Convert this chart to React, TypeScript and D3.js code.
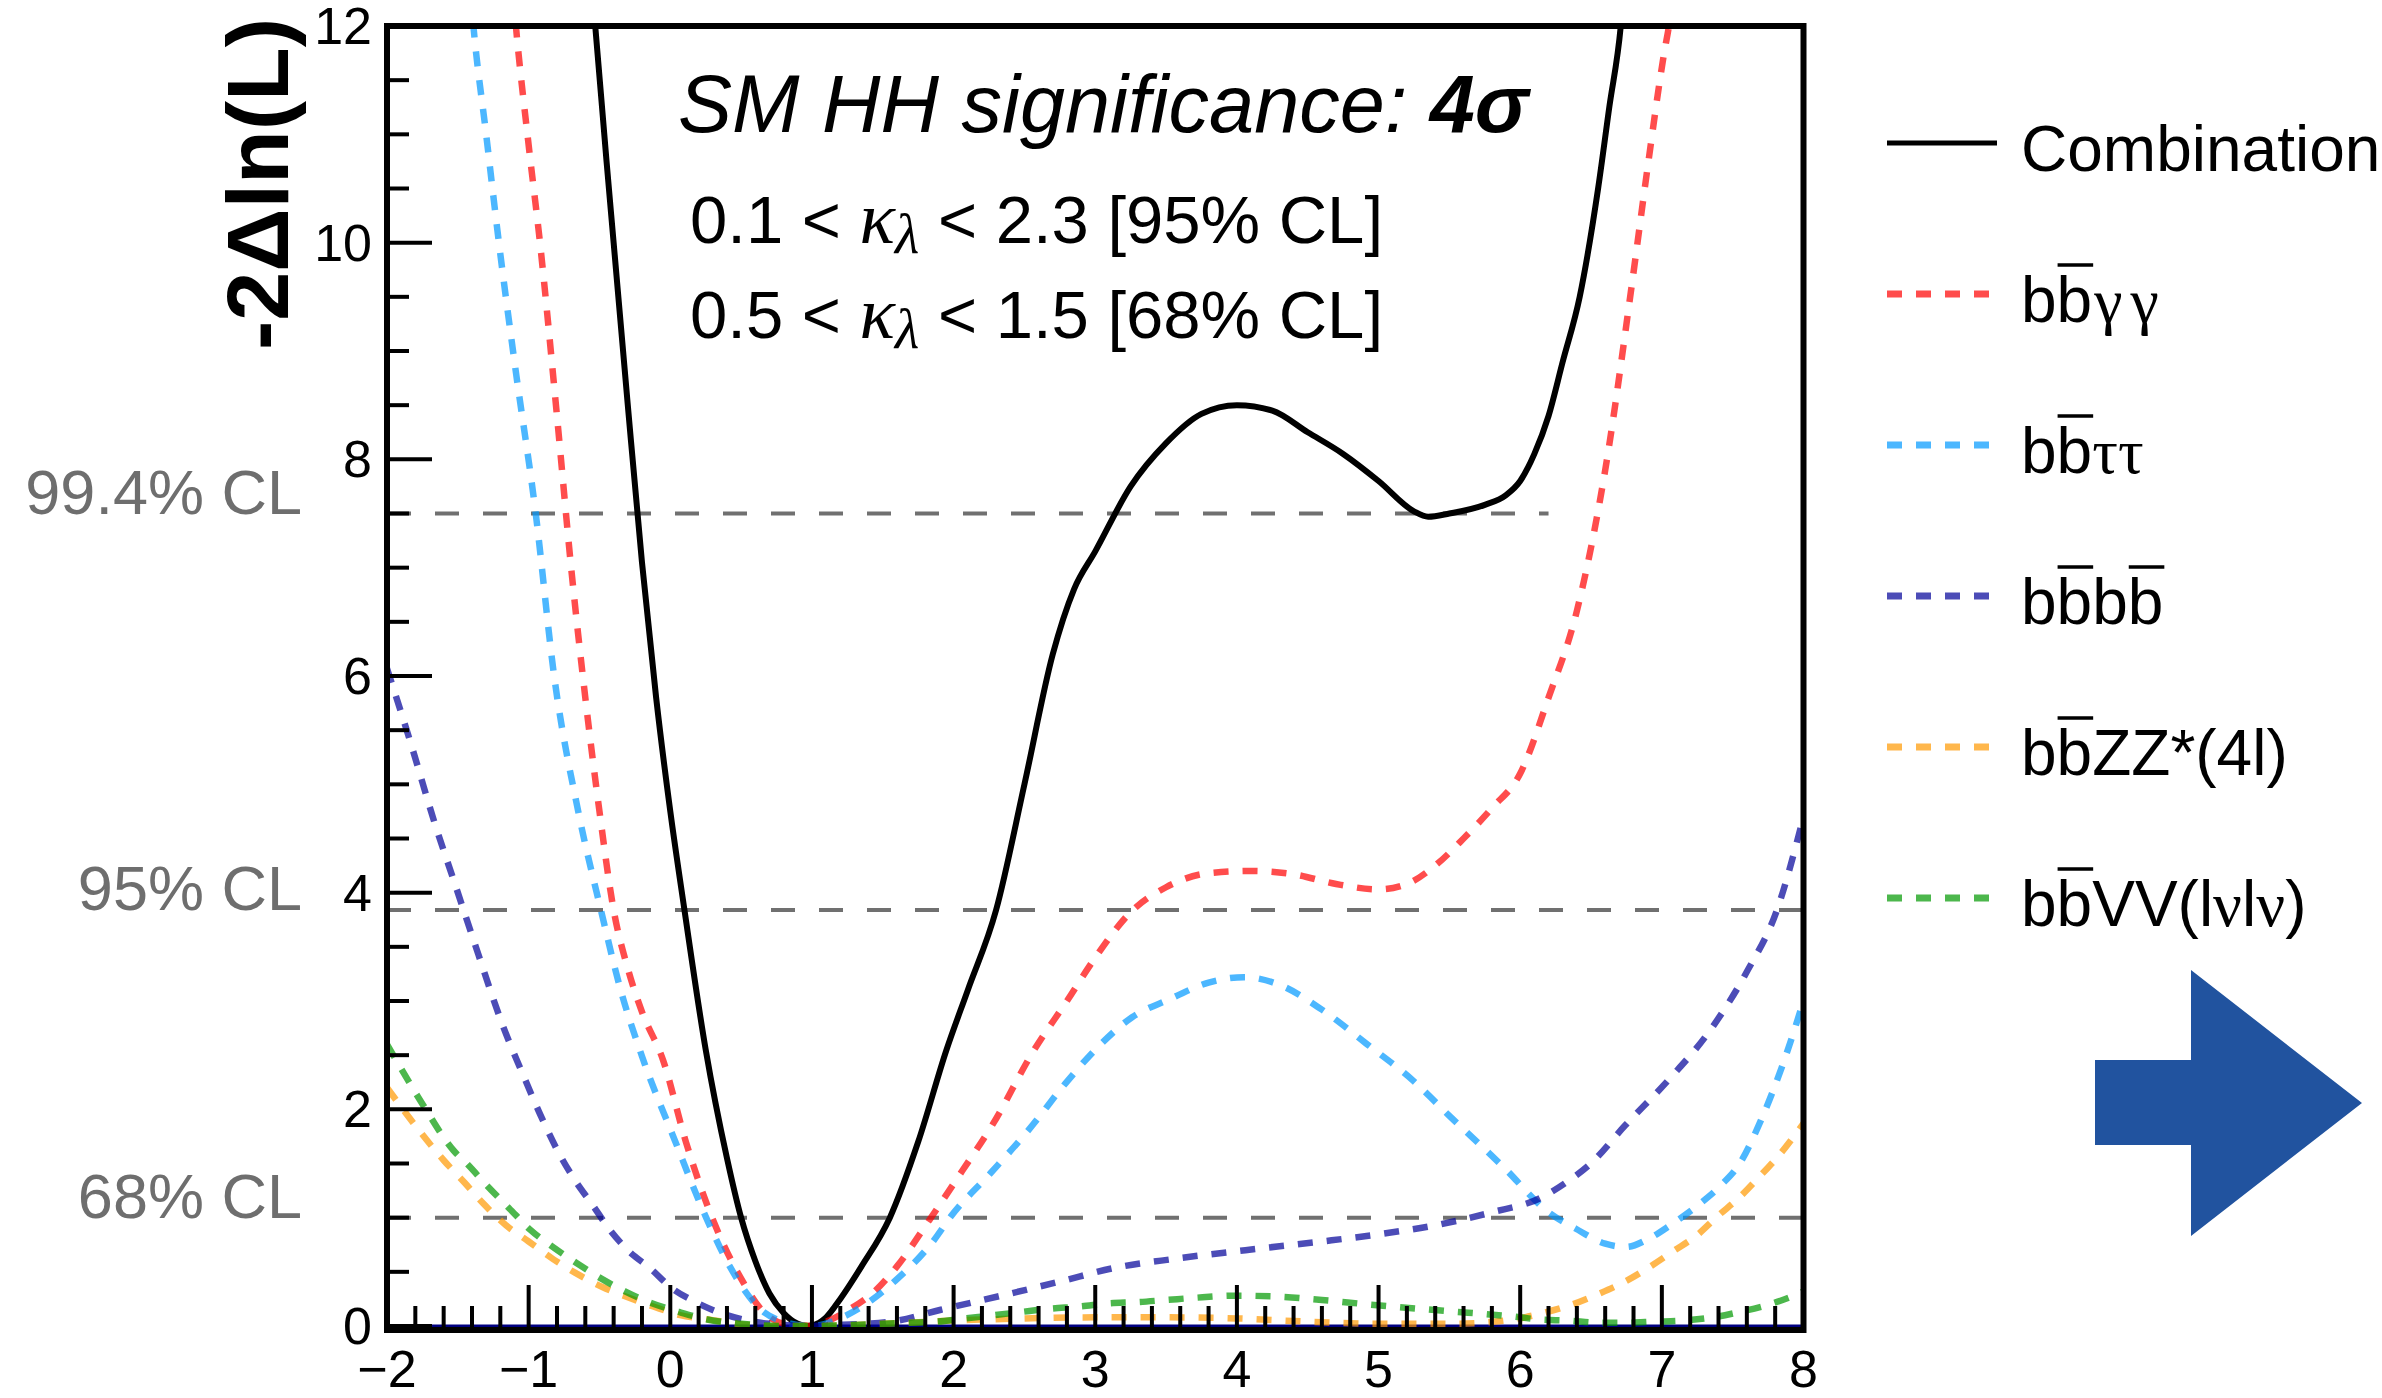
import React from "react";
import * as d3 from "d3";

// ---------- data (kappa_lambda, -2 Delta ln L) ----------
const combination: [number, number][] = [
  [-0.55, 12.3], [-0.53, 12.0], [-0.45, 10.75], [-0.4, 10.0], [-0.3, 8.5], [-0.2, 7.05], [-0.1, 5.8], [0.0, 4.75],
  [0.1, 3.84], [0.25, 2.55], [0.4, 1.55], [0.5, 1.0], [0.6, 0.6], [0.7, 0.3], [0.8, 0.12],
  [0.9, 0.02], [0.97, 0.0], [1.05, 0.03], [1.1, 0.08], [1.2, 0.25], [1.35, 0.55], [1.55, 1.0],
  [1.75, 1.7], [1.95, 2.55], [2.1, 3.1], [2.3, 3.84], [2.5, 5.0], [2.7, 6.2], [2.85, 6.8],
  [3.0, 7.15], [3.25, 7.75], [3.5, 8.15], [3.75, 8.42], [4.0, 8.5], [4.25, 8.45], [4.5, 8.25],
  [4.75, 8.05], [5.0, 7.8], [5.25, 7.52], [5.35, 7.47], [5.5, 7.5], [5.75, 7.58], [5.9, 7.67],
  [6.0, 7.8], [6.1, 8.05], [6.2, 8.4], [6.3, 8.9], [6.42, 9.5], [6.55, 10.5], [6.63, 11.26],
  [6.71, 12.0], [6.73, 12.3],
];
const bbyy: [number, number][] = [
  [-1.11, 12.3], [-1.09, 12.0], [-1.0, 10.9], [-0.92, 10.0], [-0.8, 8.4], [-0.7, 7.0], [-0.6, 5.8],
  [-0.5, 4.75], [-0.4, 3.84], [-0.3, 3.3], [-0.2, 2.9], [-0.05, 2.45], [0.11, 1.7], [0.32, 0.92],
  [0.49, 0.46], [0.69, 0.09], [0.85, 0.01], [1.0, 0.0], [1.12, 0.05], [1.26, 0.15], [1.45, 0.33],
  [1.6, 0.55], [1.83, 0.98], [2.06, 1.43], [2.28, 1.87], [2.56, 2.53], [2.8, 3.0], [3.0, 3.4],
  [3.25, 3.82], [3.5, 4.05], [3.8, 4.18], [4.1, 4.2], [4.4, 4.17], [4.7, 4.08], [5.0, 4.03],
  [5.2, 4.08], [5.4, 4.25], [5.6, 4.5], [5.8, 4.78], [6.0, 5.1], [6.2, 5.8], [6.4, 6.6],
  [6.6, 7.9], [6.79, 9.63], [6.9, 10.7], [7.02, 11.78], [7.05, 12.0], [7.08, 12.3],
];
const bbtautau: [number, number][] = [
  [-1.41, 12.3], [-1.39, 12.0], [-1.3, 11.0], [-1.21, 10.0], [-1.1, 8.9], [-0.95, 7.5], [-0.82, 6.0],
  [-0.65, 4.75], [-0.49, 3.84], [-0.35, 3.1], [-0.2, 2.49], [0.03, 1.72], [0.25, 1.01], [0.42, 0.55],
  [0.64, 0.15], [0.8, 0.04], [1.0, 0.0], [1.23, 0.09], [1.59, 0.42], [1.86, 0.79], [1.98, 1.01],
  [2.26, 1.41], [2.53, 1.81], [2.79, 2.24], [3.0, 2.55], [3.26, 2.85], [3.53, 3.02], [3.8, 3.17],
  [4.05, 3.22], [4.3, 3.15], [4.6, 2.92], [4.92, 2.6], [5.24, 2.27], [5.5, 1.94], [5.88, 1.47],
  [6.2, 1.05], [6.39, 0.9], [6.6, 0.76], [6.75, 0.73], [6.9, 0.8], [7.06, 0.93], [7.27, 1.13],
  [7.41, 1.29], [7.55, 1.5], [7.7, 1.9], [7.85, 2.4], [8.0, 3.0],
];
const bbbb: [number, number][] = [
  [-2.0, 6.07], [-1.83, 5.37], [-1.67, 4.67], [-1.51, 4.04], [-1.35, 3.41], [-1.19, 2.8],
  [-1.03, 2.29], [-0.9, 1.9], [-0.78, 1.58], [-0.66, 1.32], [-0.55, 1.12], [-0.44, 0.91],
  [-0.3, 0.7], [-0.14, 0.53], [0.01, 0.35], [0.18, 0.22], [0.4, 0.1], [0.59, 0.04], [0.8, 0.01],
  [0.95, 0.0], [1.2, 0.01], [1.56, 0.04], [1.91, 0.15], [2.37, 0.29], [2.75, 0.41], [3.15, 0.54],
  [3.56, 0.62], [4.06, 0.7], [4.6, 0.78], [5.02, 0.85], [5.44, 0.94], [5.8, 1.05], [6.14, 1.18],
  [6.33, 1.33], [6.49, 1.49], [6.74, 1.85], [7.06, 2.29], [7.33, 2.71], [7.6, 3.27], [7.81, 3.83],
  [8.0, 4.7],
];
const bbZZ: [number, number][] = [
  [-2.0, 2.2], [-1.8, 1.85], [-1.6, 1.53], [-1.45, 1.32], [-1.32, 1.13], [-1.16, 0.93], [-1.0, 0.78],
  [-0.83, 0.62], [-0.67, 0.49], [-0.48, 0.36], [-0.31, 0.27], [-0.12, 0.18], [0.07, 0.1],
  [0.27, 0.06], [0.47, 0.02], [0.7, 0.0], [1.0, 0.0], [1.5, 0.02], [2.0, 0.05], [2.5, 0.07],
  [3.0, 0.08], [3.5, 0.08], [4.0, 0.07], [4.5, 0.04], [5.0, 0.02], [5.5, 0.02], [5.95, 0.06],
  [6.16, 0.12], [6.37, 0.2], [6.56, 0.3], [6.74, 0.41], [6.92, 0.55], [7.08, 0.69], [7.25, 0.84],
  [7.39, 1.01], [7.55, 1.19], [7.69, 1.38], [7.83, 1.58], [8.0, 1.87],
];
const bbVV: [number, number][] = [
  [-2.0, 2.6], [-1.75, 2.05], [-1.53, 1.62], [-1.43, 1.49], [-1.29, 1.29], [-1.14, 1.09],
  [-0.99, 0.89], [-0.83, 0.73], [-0.66, 0.58], [-0.49, 0.44], [-0.32, 0.32], [-0.13, 0.21],
  [0.06, 0.13], [0.26, 0.06], [0.5, 0.02], [0.8, 0.0], [1.0, 0.0], [1.3, 0.01], [1.67, 0.03],
  [1.88, 0.04], [2.08, 0.07], [2.29, 0.1], [2.48, 0.13], [2.68, 0.16], [2.89, 0.18], [3.1, 0.21],
  [3.29, 0.22], [3.5, 0.24], [3.7, 0.26], [4.0, 0.28], [4.3, 0.27], [4.6, 0.24], [4.92, 0.2],
  [5.46, 0.14], [5.93, 0.09], [6.14, 0.06], [6.34, 0.05], [6.55, 0.03], [6.74, 0.03], [6.95, 0.04],
  [7.15, 0.05], [7.36, 0.08], [7.55, 0.13], [7.76, 0.2], [7.95, 0.29], [8.0, 0.32],
];

const xTickValues = [-2, -1, 0, 1, 2, 3, 4, 5, 6, 7, 8];
const yTickValues = [0, 2, 4, 6, 8, 10, 12];
const clLevels = [
  { label: "99.4% CL", value: 7.5, xEnd: 6.2 },
  { label: "95% CL", value: 3.84, xEnd: 8 },
  { label: "68% CL", value: 1.0, xEnd: 8 },
];

// ---------- layout ----------
const W = 2382;
const H = 1398;
const X0 = 387, X1 = 1803.5, Y0 = 1326, Y1 = 26;
const SANS = "'Liberation Sans', Arial, Helvetica, sans-serif";
const SERIF = "'Liberation Serif', 'Times New Roman', serif";
const LEG_FS = 64;
const B_W = 0.556 * LEG_FS; // advance width of "b"

const x = d3.scaleLinear().domain([-2, 8]).range([X0, X1]);
const y = d3.scaleLinear().domain([0, 12]).range([Y0, Y1]);

const line = d3
  .line<[number, number]>()
  .x((d) => x(d[0]))
  .y((d) => y(d[1]))
  .curve(d3.curveMonotoneX);

const series = [
  { key: "comb", data: combination, color: "#000000", opacity: 1, dashed: false,
    label: <tspan>Combination</tspan>, bars: [] as number[] },
  { key: "yy", data: bbyy, color: "#ff0000", opacity: 0.7, dashed: true,
    label: <><tspan>bb</tspan><tspan fontFamily={SERIF} dx={2}>γ</tspan><tspan fontFamily={SERIF} dx={8}>γ</tspan></>, bars: [1] },
  { key: "tt", data: bbtautau, color: "#0099ff", opacity: 0.7, dashed: true,
    label: <><tspan>bb</tspan><tspan fontFamily={SERIF}>ττ</tspan></>, bars: [1] },
  { key: "bb", data: bbbb, color: "#000099", opacity: 0.7, dashed: true,
    label: <tspan>bbbb</tspan>, bars: [1, 3] },
  { key: "zz", data: bbZZ, color: "#ff9900", opacity: 0.7, dashed: true,
    label: <tspan>bbZZ*(4l)</tspan>, bars: [1] },
  { key: "vv", data: bbVV, color: "#009900", opacity: 0.7, dashed: true,
    label: <><tspan>bbVV(l</tspan><tspan fontFamily={SERIF}>ν</tspan><tspan>l</tspan><tspan fontFamily={SERIF}>ν</tspan><tspan>)</tspan></>, bars: [1] },
];

export default function App() {
  const xMinor = d3.range(-2, 8.0001, 0.2).filter((v) => Math.abs(v - Math.round(v)) > 1e-6);
  const yMinor = d3.range(0, 12.0001, 0.5).filter((v) => Math.abs(v / 2 - Math.round(v / 2)) > 1e-6);
  const legendY0 = 143;
  const legendStep = 151;
  const legendTextX = 2021;
  return (
    <svg
      width={W}
      height={H}
      viewBox={`0 0 ${W} ${H}`}
      style={{ position: "absolute", left: 0, top: 0, background: "#fff" }}
      fontFamily={SANS}
    >
      <rect x={0} y={0} width={W} height={H} fill="#fff" />
      <defs>
        <clipPath id="plotclip">
          <rect x={X0} y={Y1} width={X1 - X0} height={Y0 - Y1 + 4} />
        </clipPath>
      </defs>

      {/* CL lines and labels */}
      {clLevels.map((c) => (
        <g key={c.label}>
          <line x1={x(-2)} x2={x(c.xEnd)} y1={y(c.value)} y2={y(c.value)}
            stroke="#707070" strokeWidth={4} strokeDasharray="24 24" />
          <text x={302} y={y(c.value)} textAnchor="end" fontSize={63} fill="#6e6e6e">{c.label}</text>
        </g>
      ))}

      {/* baseline at zero */}
      <line x1={X0} x2={X1} y1={y(0)} y2={y(0)} stroke="#000080" strokeWidth={3} />

      {/* curves */}
      <g clipPath="url(#plotclip)">
        {series.map((s) => (
          <path key={s.key} d={line(s.data) || ""} fill="none" stroke={s.color}
            strokeOpacity={s.opacity} strokeWidth={s.dashed ? 6.5 : 6}
            strokeDasharray={s.dashed ? "15 14" : undefined} />
        ))}
      </g>

      {/* ticks */}
      {xTickValues.map((v) => (
        <line key={"xm" + v} x1={x(v)} x2={x(v)} y1={Y0 + 1} y2={Y0 - 41} stroke="#000" strokeWidth={4} />
      ))}
      {xMinor.map((v) => (
        <line key={"xn" + v} x1={x(v)} x2={x(v)} y1={Y0 + 1} y2={Y0 - 20} stroke="#000" strokeWidth={4} />
      ))}
      {yTickValues.map((v) => (
        <line key={"ym" + v} x1={X0} x2={X0 + 45} y1={y(v)} y2={y(v)} stroke="#000" strokeWidth={4} />
      ))}
      {yMinor.map((v) => (
        <line key={"yn" + v} x1={X0} x2={X0 + 22} y1={y(v)} y2={y(v)} stroke="#000" strokeWidth={4} />
      ))}

      {/* frame */}
      <rect x={X0} y={Y1} width={X1 - X0} height={1330 - Y1} fill="none" stroke="#000" strokeWidth={6} />

      {/* tick labels */}
      {xTickValues.map((v) => (
        <text key={"xl" + v} x={x(v)} y={1387} textAnchor="middle" fontSize={52}>
          {v < 0 ? "\u2212" + Math.abs(v) : String(v)}
        </text>
      ))}
      {yTickValues.map((v) => (
        <text key={"yl" + v} x={372} y={y(v) + 18} textAnchor="end" fontSize={52}>{v}</text>
      ))}

      {/* y axis title */}
      <text transform={`translate(288, 18) rotate(-90)`} textAnchor="end" fontSize={88} fontWeight="bold">
        -2Δln(L)
      </text>

      {/* annotations */}
      <text x={678} y={132} fontSize={81} fontStyle="italic">
        SM HH significance: <tspan fontWeight="bold">4σ</tspan>
      </text>
      <text x={690} y={243} fontSize={67}>
        0.1 &lt; <tspan fontFamily={SERIF} fontStyle="italic" fontSize={74}>κ</tspan>
        <tspan fontFamily={SERIF} fontStyle="italic" fontSize={56} dy={10}>λ</tspan>
        <tspan dy={-10}> &lt; 2.3 [95% CL]</tspan>
      </text>
      <text x={690} y={338} fontSize={67}>
        0.5 &lt; <tspan fontFamily={SERIF} fontStyle="italic" fontSize={74}>κ</tspan>
        <tspan fontFamily={SERIF} fontStyle="italic" fontSize={56} dy={10}>λ</tspan>
        <tspan dy={-10}> &lt; 1.5 [68% CL]</tspan>
      </text>

      {/* legend */}
      {series.map((s, i) => {
        const ly = legendY0 + i * legendStep;
        const base = ly + 28;
        return (
          <g key={"lg" + s.key}>
            <line x1={1887} x2={s.dashed ? 1989 : 1997} y1={ly} y2={ly} stroke={s.color}
              strokeOpacity={s.opacity} strokeWidth={s.dashed ? 7 : 5}
              strokeDasharray={s.dashed ? "15 14" : undefined} />
            <text x={legendTextX} y={base} fontSize={LEG_FS}>{s.label}</text>
            {s.bars.map((bi) => (
              <line key={bi} x1={legendTextX + bi * B_W + 1} x2={legendTextX + (bi + 1) * B_W + 1}
                y1={base - 57} y2={base - 57} stroke="#000" strokeWidth={3.5} />
            ))}
          </g>
        );
      })}

      {/* arrow */}
      <polygon
        points="2095,1060 2191,1060 2191,970 2362,1103 2191,1236 2191,1145 2095,1145"
        fill="#21539f"
      />
    </svg>
  );
}
